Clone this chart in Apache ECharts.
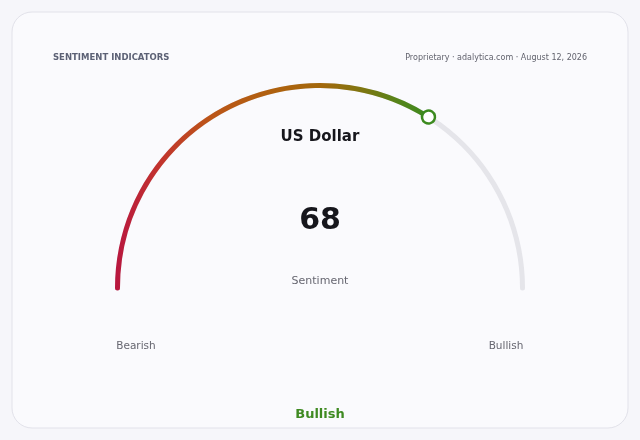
<!DOCTYPE html>
<html><head><meta charset="utf-8">
<script src="https://cdn.jsdelivr.net/npm/echarts@6/dist/echarts.min.js"></script>
<style>html,body{margin:0;padding:0;background:#f6f6fa;}#c{width:640px;height:440px;}</style>
</head><body><div id="c"></div>
<script>
const indicatorName = "US Dollar";
const sentimentValue = 68;
const valueLabel = "Sentiment";
const scaleMin = 0;
const scaleMax = 100;
const endLabels = ["Bearish", "Bullish"];
const verdict = "Bullish";
const headerLeft = "SENTIMENT INDICATORS";
const headerRight = "Proprietary · adalytica.com · August 12, 2026";

const FONT = "DejaVu Sans";
function txt(text, x, y, size, weight, color, align) {
  return {
    type: 'text', x: x, y: y, z: 10,
    style: {text: text, fontFamily: FONT, fontSize: size, fontWeight: weight, fill: color,
            textAlign: align, textVerticalAlign: 'middle'}
  };
}
const common = {
  type: 'gauge', center: [320, 288], radius: 205, startAngle: 180, endAngle: 0,
  min: scaleMin, max: scaleMax,
  anchor: {show: false}, axisTick: {show: false}, splitLine: {show: false}, axisLabel: {show: false}
};
const chart = echarts.init(document.getElementById('c'), null, {renderer: 'canvas'});
chart.setOption({
  backgroundColor: '#f6f6fa',
  graphic: [
    {type: 'rect', z: -10, shape: {x: 12, y: 12, width: 616, height: 416, r: 20},
     style: {fill: '#fafafd', stroke: '#e2e2ea', lineWidth: 1}},
    txt(headerLeft, 53, 57.5, 8.5, 'bold', '#5c6175', 'left'),
    txt(headerRight, 587, 57.5, 8, 'normal', '#62636e', 'right'),
    txt(indicatorName, 320, 137, 15, 'bold', '#16161c', 'center'),
    txt(endLabels[0], 136, 346, 10.5, 'normal', '#666670', 'center'),
    txt(endLabels[1], 506, 346, 10.5, 'normal', '#666670', 'center'),
    txt(verdict, 320, 414.5, 13, 'bold', '#3f8a22', 'center')
  ],
  series: [
    Object.assign({}, common, {
      z: 2,
      axisLine: {roundCap: true, lineStyle: {width: 5, color: [[1, '#e5e5ea']]}},
      progress: {
        show: true, width: 5, roundCap: true,
        itemStyle: {
          color: new echarts.graphic.LinearGradient(115, 0, 430, 0, [
            {offset: 0, color: '#b8163f'},
            {offset: 0.14, color: '#c2332e'},
            {offset: 0.3, color: '#bc5518'},
            {offset: 0.52, color: '#ae620e'},
            {offset: 0.66, color: '#a2680c'},
            {offset: 0.8, color: '#7a7812'},
            {offset: 0.9, color: '#55841a'},
            {offset: 1, color: '#3c8a1f'}
          ], true)
        }
      },
      pointer: {show: false},
      title: {show: true, offsetCenter: [0, -7], fontFamily: FONT, fontSize: 11, color: '#666670'},
      detail: {
        show: true, offsetCenter: [0, -67], fontFamily: FONT, fontSize: 30, fontWeight: 'bold', color: '#16161c',
        formatter: '{value}'
      },
      data: [{value: sentimentValue, name: valueLabel}]
    }),
    Object.assign({}, common, {
      z: 5,
      axisLine: {show: false},
      progress: {show: false},
      pointer: {
        show: true, icon: 'circle', length: 13, width: 13,
        offsetCenter: [0, -196], keepAspect: true,
        itemStyle: {color: '#ffffff', borderColor: '#3c8a1f', borderWidth: 2.5}
      },
      title: {show: false},
      detail: {show: false},
      data: [{value: sentimentValue}]
    })
  ]
});
</script></body></html>
